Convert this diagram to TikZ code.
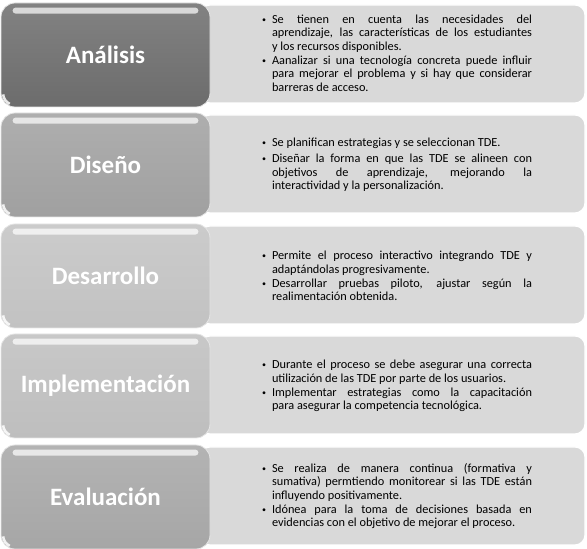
\documentclass[tikz,border=0pt]{standalone}
\usepackage{fontspec}
\setmainfont{Carlito}
\usetikzlibrary{positioning}
\definecolor{gris1}{HTML}{6C6C6C}
\definecolor{gris2}{HTML}{A0A0A0}
\definecolor{gris3}{HTML}{C2C2C2}
\definecolor{gris4}{HTML}{BEBEBE}
\definecolor{gris5}{HTML}{A6A6A6}
\definecolor{panel}{HTML}{D9D9D9}
\newcommand{\punto}[1]{\noindent\makebox[10pt][l]{\raisebox{0.15ex}{\fontsize{8}{8}\selectfont\textbullet}}%
  \parbox[t]{260pt}{\hyphenpenalty=10000\exhyphenpenalty=10000\tolerance=9999\relax #1}\par}
\newcommand{\brillo}[1]{%
  \fill[white, opacity=0.7, rounded corners=3pt] ([xshift=12pt,yshift=-5pt]#1.north west) rectangle ([xshift=-12pt,yshift=-11pt]#1.north east);
  \draw[white, opacity=0.85, line width=2.5pt] ([xshift=14pt,yshift=14pt]#1.south west) ++(185:11.5pt) arc[start angle=185, end angle=245, radius=11.5pt];}

\begin{document}
\begin{tikzpicture}[x=1pt, y=1pt,
    fase/.style = {draw=white!80!gray, line width=0.8pt, rounded corners=14pt, minimum width=209pt, minimum height=104pt,
      top color=#1!85!white, bottom color=#1, text=white, font=\fontsize{25}{30}\selectfont\bfseries},
    detalle/.style = {draw=white, line width=1.2pt, fill=panel, rounded corners=10pt, minimum width=385pt, minimum height=98pt},
    texto/.style = {text width=270pt, align=justify, inner sep=0pt, font=\fontsize{12.3}{13.6}\selectfont}]
    \useasboundingbox (0,0) rectangle (587,549);

    % Panels
    \node[detalle] (d1) at (392.5, 495) {};
    \node[detalle] (d2) at (392.5, 385) {};
    \node[detalle] (d3) at (392.5, 274) {};
    \node[detalle] (d4) at (392.5, 164) {};
    \node[detalle] (d5) at (392.5, 53) {};

    % Phases
    \node[fase=gris1] (analisis) at (105.5, 494) {Análisis};
    \node[fase=gris2] (diseno) at (105.5, 384) {Diseño};
    \node[fase=gris3] (desarrollo) at (105.5, 273) {Desarrollo};
    \node[fase=gris4] (implementacion) at (105.5, 163) {Implementación};
    \node[fase=gris5] (evaluacion) at (105.5, 52) {Evaluación};
    \brillo{analisis}
    \brillo{diseno}
    \brillo{desarrollo}
    \brillo{implementacion}
    \brillo{evaluacion}

    % Texts
    \node[texto] (t1) at (397, 496) {\punto{Se tienen en cuenta las necesidades del\linebreak aprendizaje, las características de los estudiantes\linebreak y los recursos disponibles.}
      \vspace{2.5pt}\punto{Aanalizar si una tecnología concreta puede influir\linebreak para mejorar el problema y si hay que considerar\linebreak barreras de acceso.}};
    \node[texto] (t2) at (397, 384) {\punto{Se planifican estrategias y se seleccionan TDE.}
      \vspace{2.5pt}\punto{Diseñar la forma en que las TDE se alineen con\linebreak objetivos de aprendizaje, mejorando la\linebreak interactividad y la personalización.}};
    \node[texto] (t3) at (397, 273) {\punto{Permite el proceso interactivo integrando TDE y\linebreak adaptándolas progresivamente.}
      \vspace{2.5pt}\punto{Desarrollar pruebas piloto, ajustar según la\linebreak realimentación obtenida.}};
    \node[texto] (t4) at (397, 163) {\punto{Durante el proceso se debe asegurar una correcta\linebreak utilización de las TDE por parte de los usuarios.}
      \vspace{2.5pt}\punto{Implementar estrategias como la capacitación\linebreak para asegurar la competencia tecnológica.}};
    \node[texto] (t5) at (397, 53) {\punto{Se realiza de manera continua (formativa y\linebreak sumativa) permtiendo monitorear si las TDE están\linebreak influyendo positivamente.}
      \vspace{2.5pt}\punto{Idónea para la toma de decisiones basada en\linebreak evidencias con el objetivo de mejorar el proceso.}};
\end{tikzpicture}
\end{document}
